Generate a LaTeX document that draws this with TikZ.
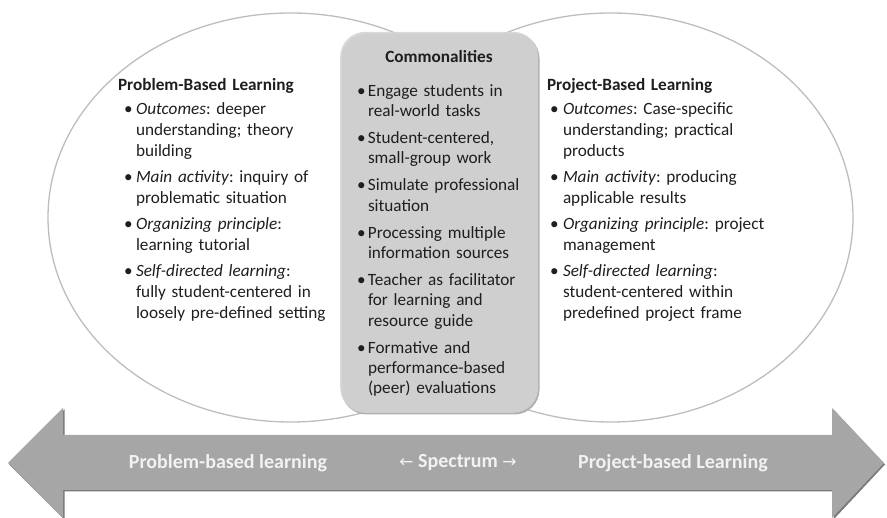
\documentclass[tikz,border=0pt]{standalone}
\usepackage{fontspec}
\setmainfont{Carlito}
\newfontfamily\symfont{DejaVu Sans}
\usetikzlibrary{shapes.geometric}
\definecolor{ellline}{HTML}{BDBDBD}
\definecolor{boxfill}{HTML}{D4D4D4}
\definecolor{boxedge}{HTML}{B0B0B0}
\definecolor{arrowfill}{HTML}{A6A6A6}
\definecolor{arrowdark}{HTML}{7A7A7A}
\definecolor{txt}{HTML}{1E1E1E}
\definecolor{arrowtxt}{HTML}{F2F2F2}
\newcommand{\pitem}[3]{\par\vspace{#1}\hangindent=#2\hangafter=1\noindent\makebox[#2][l]{•}#3}
\tikzset{
  venn/.style={ellipse, draw=ellline, line width=1.3pt, inner sep=0pt},
  colbox/.style={inner sep=0pt, outer sep=0pt, anchor=north west, align=left, text width=300pt, text=txt,
    font=\fontsize{17.2}{21.2}\selectfont},
  commbox/.style={inner sep=0pt, outer sep=0pt, anchor=north west, align=left, text width=200pt, text=txt,
    font=\fontsize{17.2}{20.2}\selectfont},
  arrowlabel/.style={inner sep=0pt, text=arrowtxt, font=\fontsize{20}{24}\selectfont\bfseries},
}
\begin{document}
\frenchspacing
\begin{tikzpicture}[x=1pt,y=1pt]
\useasboundingbox (0,0) rectangle (887,518);
% Venn ellipses
\node[venn, minimum width=485pt, minimum height=409pt] (left) at (290.5,300.5) {};
\node[venn, minimum width=485pt, minimum height=409pt] (right) at (610.5,300.5) {};
% commonalities box
\fill[boxedge, rounded corners=25pt] (341.5,103.5) rectangle (539.5,484.5);
\node[fill=boxfill, fill opacity=0.88, rounded corners=25pt, minimum width=198pt, minimum height=381pt, inner sep=0pt, anchor=south west] (comm) at (340,105) {};
% arrow
\coordinate (ltip) at (8,55);
\coordinate (rtip) at (884,55);
\fill[arrowdark] ([xshift=1pt,yshift=-1.5pt]ltip) -- (64.5,108.5) -- (64.5,81.5) -- (833.5,81.5) -- (833.5,108.5) -- ([xshift=1pt,yshift=-1.5pt]rtip) -- (833.5,-1.5) -- (833.5,26.5) -- (64.5,26.5) -- (64.5,-1.5) -- cycle;
\fill[arrowfill] (ltip) -- (63,110) -- (63,83) -- (832,83) -- (832,110) -- (rtip) -- (832,0) -- (832,28) -- (63,28) -- (63,0) -- cycle;
\node[arrowlabel] (pbl) at (228,55) {Problem-based learning};
\node[arrowlabel] (spec) at (458,55) {{\symfont\mdseries\fontsize{17}{20}\selectfont ←} Spectrum {\symfont\mdseries\fontsize{17}{20}\selectfont →}};
\node[arrowlabel] (pjbl) at (673,55) {Project-based Learning};
% left column
\node[colbox] (lefttext) at (118,440) {%
\parindent=0pt{\bfseries Problem-Based Learning}\par\leftskip=6pt
\pitem{3pt}{12pt}{\textit{Outcomes}: deeper\newline understanding; theory\newline building}
\pitem{4.5pt}{12pt}{\textit{Main activity}: inquiry of\newline problematic situation}
\pitem{4.5pt}{12pt}{\textit{Organizing principle}:\newline learning tutorial}
\pitem{4.5pt}{12pt}{\textit{Self-directed learning}:\newline fully student-centered in\newline loosely pre-defined setting}\par};
% commonalities
\node[inner sep=0pt, text=txt, font=\fontsize{17.2}{20}\selectfont\bfseries, anchor=base] (commtitle) at (439,455.5) {Commonalities};
\node[commbox] (commtext) at (357,442) {%
\parindent=0pt
\pitem{0pt}{11pt}{Engage students in\newline real-world tasks}
\pitem{7pt}{11pt}{Student-centered,\newline small-group work}
\pitem{7pt}{11pt}{Simulate professional\newline situation}
\pitem{7pt}{11pt}{Processing multiple\newline information sources}
\pitem{7pt}{11pt}{Teacher as facilitator\newline for learning and\newline resource guide}
\pitem{7pt}{11pt}{Formative and\newline performance-based\newline (peer) evaluations}\par};
% right column
\node[colbox] (righttext) at (547,440) {%
\parindent=0pt{\bfseries Project-Based Learning}\par\leftskip=3pt
\pitem{3pt}{13pt}{\textit{Outcomes}: Case-specific\newline understanding; practical\newline products}
\pitem{4.5pt}{13pt}{\textit{Main activity}: producing\newline applicable results}
\pitem{4.5pt}{13pt}{\textit{Organizing principle}: project\newline management}
\pitem{4.5pt}{13pt}{\textit{Self-directed learning}:\newline student-centered within\newline predefined project frame}\par};
\end{tikzpicture}
\end{document}
